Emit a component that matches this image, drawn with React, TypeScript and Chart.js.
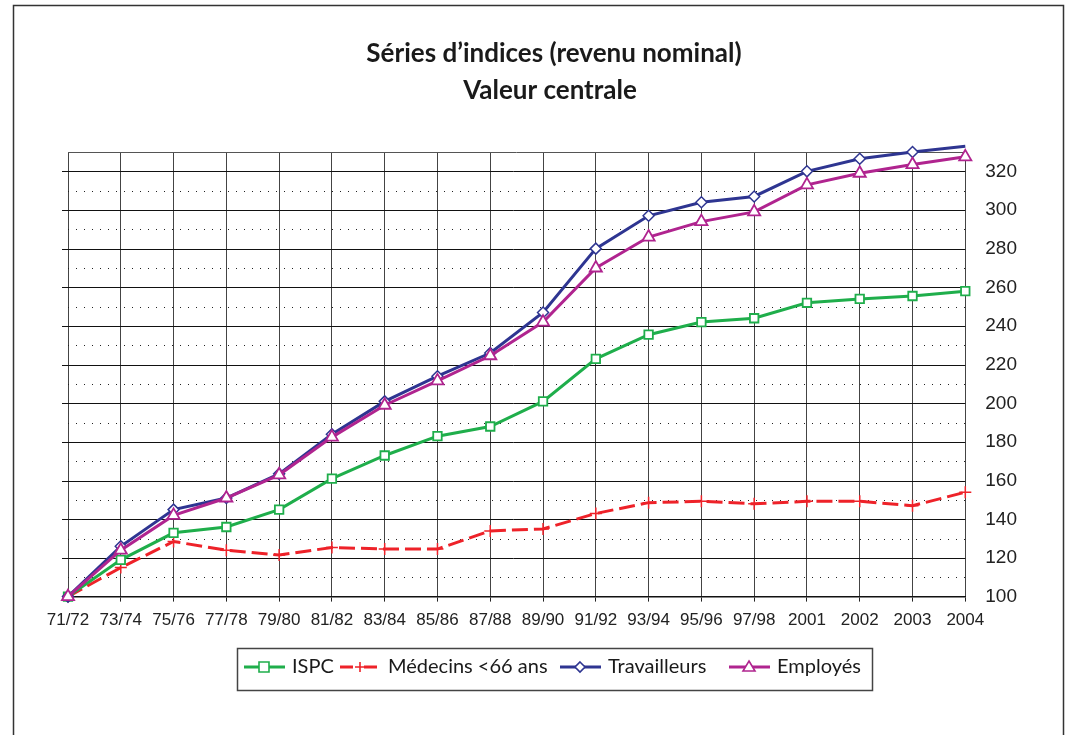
import React, { useEffect, useRef } from 'react';
import { Chart, registerables } from 'chart.js';

Chart.register(...registerables);

const categories = ['71/72', '73/74', '75/76', '77/78', '79/80', '81/82', '83/84', '85/86', '87/88', '89/90', '91/92', '93/94', '95/96', '97/98', '2001', '2002', '2003', '2004'];
const ispc = [100, 119, 133, 136, 145, 161, 173, 183, 188, 201, 223, 235.5, 242, 244, 252, 254, 255.5, 258];
const medecins = [100, 115, 128.5, 124, 121.5, 125.4, 124.6, 124.6, 134, 135, 143, 148.6, 149.3, 148, 149.3, 149.3, 147, 154];
const travailleurs = [100, 126, 145, 151, 163.5, 184, 201, 214, 226, 247, 280, 297, 304, 307, 320, 326.5, 330, 333];
const employes = [100, 124, 142, 151, 163, 182.5, 199, 211.6, 224.6, 242, 270, 286, 294, 299, 313, 319, 323.5, 327.5];
const seriesNames = ['ISPC', 'Médecins <66 ans', 'Travailleurs', 'Employés'];
const titleLines = ['Séries d’indices (revenu nominal)', 'Valeur centrale'];
const yMin = 100;
const yMax = 330;
const yStep = 10;
const yLabelStep = 20;

const GREEN = '#1fae4b';
const RED = '#ee2229';
const BLUE = '#2e3591';
const MAGENTA = '#b0248f';
const HUMANIST = "Lato, 'Open Sans', sans-serif";
const ARIAL = "'Liberation Sans', Arial, sans-serif";

function drawMarker(ctx: CanvasRenderingContext2D, style: string, x: number, y: number, color: string) {
  ctx.save();
  ctx.setLineDash([]);
  ctx.strokeStyle = color;
  ctx.fillStyle = '#fff';
  ctx.lineWidth = 1.6;
  ctx.beginPath();
  if (style === 'rect') {
    ctx.rect(x - 5, y - 5, 10, 10);
    ctx.fill();
    ctx.stroke();
  } else if (style === 'cross') {
    ctx.moveTo(x - 5, y); ctx.lineTo(x + 5, y);
    ctx.moveTo(x, y - 5); ctx.lineTo(x, y + 5);
    ctx.stroke();
  } else if (style === 'rectRot') {
    ctx.moveTo(x, y - 5); ctx.lineTo(x + 5, y); ctx.lineTo(x, y + 5); ctx.lineTo(x - 5, y); ctx.closePath();
    ctx.fill();
    ctx.stroke();
  } else {
    ctx.moveTo(x, y - 6); ctx.lineTo(x + 6, y + 4); ctx.lineTo(x - 6, y + 4); ctx.closePath();
    ctx.fill();
    ctx.stroke();
  }
  ctx.restore();
}

const decorPlugin = {
  id: 'decor',
  beforeDraw(chart: any) {
    const ctx = chart.ctx as CanvasRenderingContext2D;
    ctx.save();
    ctx.fillStyle = '#fff';
    ctx.fillRect(0, 0, chart.width, chart.height);
    ctx.strokeStyle = '#333';
    ctx.lineWidth = 1.5;
    ctx.beginPath();
    ctx.moveTo(13.5, chart.height + 5);
    ctx.lineTo(13.5, 5.5);
    ctx.lineTo(1063.5, 5.5);
    ctx.lineTo(1063.5, chart.height + 5);
    ctx.stroke();
    ctx.restore();
  },
  beforeDatasetsDraw(chart: any) {
    const ctx = chart.ctx as CanvasRenderingContext2D;
    const ys = chart.scales.y;
    const { left, right } = chart.chartArea;
    ctx.save();
    ctx.lineWidth = 1;
    for (let v = yMin + yStep; v <= yMax; v += yStep) {
      const py = Math.round(ys.getPixelForValue(v)) + 0.5;
      ctx.beginPath();
      if (v === yMax) {
        ctx.setLineDash([]);
        ctx.strokeStyle = '#555';
      } else if (v % yLabelStep === 0) {
        ctx.setLineDash([]);
        ctx.strokeStyle = '#111';
      } else {
        ctx.setLineDash([1, 7]);
        ctx.strokeStyle = '#222';
      }
      ctx.moveTo(v % yLabelStep === 0 ? left - 6 : left, py);
      ctx.lineTo(right, py);
      ctx.stroke();
    }
    ctx.restore();
  },
  afterDraw(chart: any) {
    const ctx = chart.ctx as CanvasRenderingContext2D;
    ctx.save();
    // title
    ctx.fillStyle = '#1a1a1a';
    ctx.textAlign = 'center';
    ctx.textBaseline = 'alphabetic';
    ctx.font = `bold 26px ${HUMANIST}`;
    ctx.fillText(titleLines[0], 554, 62);
    ctx.fillText(titleLines[1], 550, 99);

    // legend
    ctx.strokeStyle = '#444';
    ctx.lineWidth = 1.5;
    ctx.strokeRect(237.5, 648.5, 635, 42);
    const colors = [GREEN, RED, BLUE, MAGENTA];
    const styles = ['rect', 'cross', 'rectRot', 'triangle'];
    const starts = [244, 340, 560, 729];
    const ly = 667;
    ctx.font = `20px ${HUMANIST}`;
    ctx.textAlign = 'left';
    ctx.textBaseline = 'middle';
    for (let i = 0; i < 4; i++) {
      const x0 = starts[i];
      ctx.strokeStyle = colors[i];
      ctx.lineWidth = 3;
      ctx.setLineDash(i === 1 ? [13, 11] : []);
      ctx.beginPath();
      ctx.moveTo(x0, ly);
      ctx.lineTo(x0 + 41, ly);
      ctx.stroke();
      ctx.setLineDash([]);
      drawMarker(ctx, styles[i], x0 + 20, ly, colors[i]);
      ctx.fillStyle = '#1a1a1a';
      ctx.fillText(seriesNames[i], x0 + 48, ly);
    }
    ctx.restore();
  },
};

export default function App() {
  const canvasRef = useRef<HTMLCanvasElement | null>(null);

  useEffect(() => {
    if (!canvasRef.current) return;
    const chart = new Chart(canvasRef.current, {
      type: 'line',
      data: {
        labels: categories,
        datasets: [
          {
            label: seriesNames[0], data: ispc, order: 2,
            borderColor: GREEN, borderWidth: 3, tension: 0,
            pointStyle: 'rect', pointRadius: 6, pointBorderWidth: 1.8,
            pointBackgroundColor: '#fff', pointBorderColor: GREEN,
          },
          {
            label: seriesNames[1], data: medecins, order: 3,
            borderColor: RED, borderWidth: 3, borderDash: [16, 6], tension: 0,
            pointStyle: 'cross', pointRadius: 6, pointBorderWidth: 1.5,
            pointBackgroundColor: RED, pointBorderColor: RED,
          },
          {
            label: seriesNames[2], data: travailleurs, order: 1,
            borderColor: BLUE, borderWidth: 3, tension: 0,
            pointStyle: 'rectRot', pointRadius: (c: any) => (c.raw > yMax ? 0 : 5.5), pointBorderWidth: 1.5,
            pointBackgroundColor: '#fff', pointBorderColor: BLUE,
          },
          {
            label: seriesNames[3], data: employes, order: 0,
            borderColor: MAGENTA, borderWidth: 3, tension: 0,
            pointStyle: 'triangle', pointRadius: 7, pointBorderWidth: 1.8,
            pointBackgroundColor: '#fff', pointBorderColor: MAGENTA,
          },
        ],
      },
      options: {
        responsive: false,
        animation: false,
        clip: false as any,
        layout: { padding: { top: 152, left: 68, right: 35, bottom: 95 } },
        plugins: {
          legend: { display: false },
          title: { display: false },
          tooltip: { enabled: false },
        },
        scales: {
          x: {
            grid: { color: '#444', lineWidth: 1, tickLength: 5, drawTicks: true, tickColor: '#222' },
            border: { color: '#111', width: 1.5 },
            ticks: {
              autoSkip: false, maxRotation: 0, minRotation: 0, padding: 9,
              color: '#222', font: { family: ARIAL, size: 17 },
            },
          },
          y: {
            position: 'right',
            min: yMin, max: yMax,
            grid: { display: false, drawTicks: false },
            border: { display: false },
            ticks: {
              stepSize: yStep, padding: 20, color: '#222',
              font: { family: ARIAL, size: 19 },
              callback: (v: any) => (Number(v) % yLabelStep === 0 ? String(v) : ''),
            },
          },
        },
      },
      plugins: [decorPlugin],
    });
    return () => chart.destroy();
  }, []);

  return (
    <div style={{ position: 'fixed', left: 0, top: 0, width: 1072, height: 735, background: '#fff' }}>
      <canvas ref={canvasRef} width={1072} height={735} style={{ display: 'block' }} />
    </div>
  );
}
